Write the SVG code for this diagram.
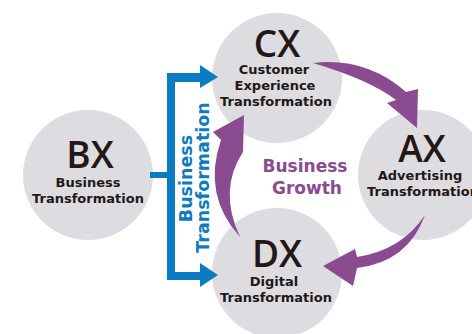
<svg xmlns="http://www.w3.org/2000/svg" width="472" height="334" viewBox="0 0 472 334">
<style>
.c{fill:#dddce1}
.big{font-family:"Open Sans","DejaVu Sans",sans-serif;font-weight:600;font-size:37px;fill:#231815;text-anchor:middle}
.sm{font-family:"DejaVu Sans",sans-serif;font-weight:bold;font-size:13px;fill:#231815;text-anchor:middle}
.pu{fill:#8a4b91}
.bl{fill:#0b7cc1}
.gr{font-family:"DejaVu Sans",sans-serif;font-weight:bold;font-size:17px;fill:#8a4b91;text-anchor:middle}
.bt{font-family:"DejaVu Sans",sans-serif;font-weight:bold;font-size:17.5px;fill:#0b7cc1;text-anchor:middle}
</style>
<rect width="472" height="334" fill="#ffffff"/>
<g id="BX">
<circle class="c" cx="88" cy="175" r="65"/>
<text class="big" x="90" y="168">BX</text>
<text class="sm" x="88" y="187">Business</text>
<text class="sm" x="88" y="203">Transformation</text>
</g>
<g id="CX">
<circle class="c" cx="277" cy="78" r="65"/>
<text class="big" x="277" y="57">CX</text>
<text class="sm" x="274" y="74">Customer</text>
<text class="sm" x="275" y="90">Experience</text>
<text class="sm" x="276" y="106">Transformation</text>
</g>
<g id="AX">
<circle class="c" cx="423" cy="175" r="65"/>
<text class="big" x="422" y="162">AX</text>
<text class="sm" x="420" y="180">Advertising</text>
<text class="sm" x="423" y="196">Transformation</text>
</g>
<g id="DX">
<circle class="c" cx="277" cy="273" r="65"/>
<text class="big" x="277" y="267">DX</text>
<text class="sm" x="274" y="286">Digital</text>
<text class="sm" x="276" y="302">Transformation</text>
</g>
<g id="growth">
<text class="gr" x="305" y="172">Business</text>
<text class="gr" x="307" y="194">Growth</text>
</g>
<g id="connectors">
<path class="bl" d="M150,172 H167 V73 H200 V65 L218,77 L200,88 V82 H175 V272 H200 V263 L218,275 L200,287 V280 H167 V178 H150 Z"/>
<text class="bt" transform="translate(192,178.5) rotate(-90)">Business</text>
<text class="bt" transform="translate(209,177.5) rotate(-90)">Transformation</text>
<path class="pu" d="M313,63 Q366,57 406,92 L418,89 L417,128 L387,103 L396,100 Q370,80 313,63 Z"/>
<path class="pu" d="M425,215 Q408,262 357,268 L353,286 L323,266 L355,249 L357,257 Q402,250 425,215 Z"/>
<path class="pu" d="M240,237 Q202,195 221,140 L213,132 L244,115 L243,152 Q218,190 240,237 Z"/>
</g>
</svg>
